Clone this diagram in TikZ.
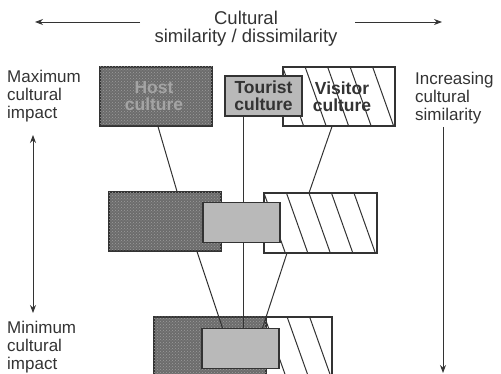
\documentclass[tikz,border=0pt]{standalone}
\usepackage{fontspec}
\setmainfont{Liberation Sans}
\usetikzlibrary{patterns,arrows.meta}

\definecolor{ink}{HTML}{333333}
\definecolor{hostgrey}{HTML}{6C6C6C}
\definecolor{hostdot}{HTML}{9C9C9C}
\definecolor{hosttext}{HTML}{A4A4A4}
\definecolor{touristgrey}{HTML}{B9B9B9}

\pgfdeclarelayer{back}
\pgfdeclarelayer{links}
\pgfsetlayers{back,links,main}

\newcommand{\hatchbox}[1]{%
  \begin{scope}
    \clip (#1.south west) rectangle (#1.north east);
    \foreach \k in {0,...,5}
      \draw[ink, line width=1pt] ([xshift=\k*22.5pt]#1.north west) -- ++(21,59);
  \end{scope}}

\begin{document}
\begin{tikzpicture}[x=1pt,y=-1pt,
  box/.style={draw=ink, line width=1.1pt, inner sep=0pt,
    minimum width=112pt, minimum height=59pt},
  hostbox/.style={box, fill=hostgrey,
    postaction={pattern=crosshatch dots, pattern color=hostdot}},
  touristbox/.style={box, fill=touristgrey,
    minimum width=77pt, minimum height=40pt},
  visitorbox/.style={box, fill=white},
  boxtext/.style={font=\fontsize{17.5}{17}\selectfont\bfseries, align=center},
  link/.style={draw=ink, line width=1pt},
  label/.style={font=\fontsize{17}{18}\selectfont, align=left,
    anchor=north west, inner sep=0pt, text=ink},
  axis/.style={draw=ink, line width=0.9pt},
  tip/.style={-{Stealth[length=8pt,width=6pt]}}]

\useasboundingbox (0,0) rectangle (501,374);
\clip (0,0) rectangle (501,374);

% ---- background layer: visitor and host cultures ----
\begin{pgfonlayer}{back}
  \node[visitorbox] (v1) at (339,96.5) {};
  \node[visitorbox] (v2) at (320.5,223) {};
  \node[visitorbox] (v3) at (276,346.5) {};
  \hatchbox{v1}
  \hatchbox{v2}
  \hatchbox{v3}
  \draw[draw=ink, line width=1.1pt] (v1.south west) rectangle (v1.north east);
  \draw[draw=ink, line width=1.1pt] (v2.south west) rectangle (v2.north east);
  \draw[draw=ink, line width=1.1pt] (v3.south west) rectangle (v3.north east);

  \node[hostbox] (h1) at (156,96.5) {};
  \node[hostbox] (h2) at (165,221.5) {};
  \node[hostbox] (h3) at (210,346.5) {};
\end{pgfonlayer}

% ---- tourist culture boxes on top ----
\node[touristbox] (t1) at (263.5,96) {};
\node[touristbox] (t2) at (241.5,222.5) {};
\node[touristbox] (t3) at (240.5,348.5) {};

% ---- box captions ----
\node[boxtext, text=hosttext] (hl) at ([xshift=-2pt]h1.center) {Host\\culture};
\node[boxtext, text=ink] (tl) at (t1.center) {Tourist\\culture};
\node[boxtext, text=ink] (vl) at ([xshift=3pt]v1.center) {Visitor\\culture};

% ---- links between the three stages ----
\begin{pgfonlayer}{links}
  \draw[link] ([xshift=2pt]h1.south) -- ([xshift=12pt]h2.north);
  \draw[link] ([xshift=32pt]h2.south) -- ([xshift=-18pt]t3.north);
  \draw[link] ([xshift=-20.5pt]t1.south) -- ([xshift=2.5pt]t3.north);
  \draw[link] ([xshift=-7pt]v1.south) -- ([xshift=-11.5pt]v2.north);
  \draw[link] ([xshift=-33.5pt]v2.south) -- ([xshift=22pt]t3.north);
\end{pgfonlayer}

% ---- heading and its arrows ----
\node[font=\fontsize{18.5}{18}\selectfont, align=center, anchor=north,
  inner sep=0pt, text=ink] (title) at (246,11)
  {Cultural\\similarity / dissimilarity};
\coordinate (la) at (140,22);
\coordinate (lb) at (35,22);
\coordinate (ra) at (355,22);
\coordinate (rb) at (442,22);
\draw[axis, tip] (la) -- (lb);
\draw[axis, tip] (ra) -- (rb);

% ---- side labels ----
\node[label] (maxl) at (7,70) {Maximum\\cultural\\impact};
\node[label] (minl) at (7,321) {Minimum\\cultural\\impact};
\node[label] (incl) at (415,72) {Increasing\\cultural\\similarity};

\coordinate (iu) at (33,135);
\coordinate (id) at (33,313);
\draw[axis, {Stealth[length=8pt,width=6pt]}-{Stealth[length=8pt,width=6pt]}] (iu) -- (id);

\coordinate (su) at (443,127);
\coordinate (sd) at (443,373);
\draw[axis, tip] (su) -- (sd);
\end{tikzpicture}
\end{document}
